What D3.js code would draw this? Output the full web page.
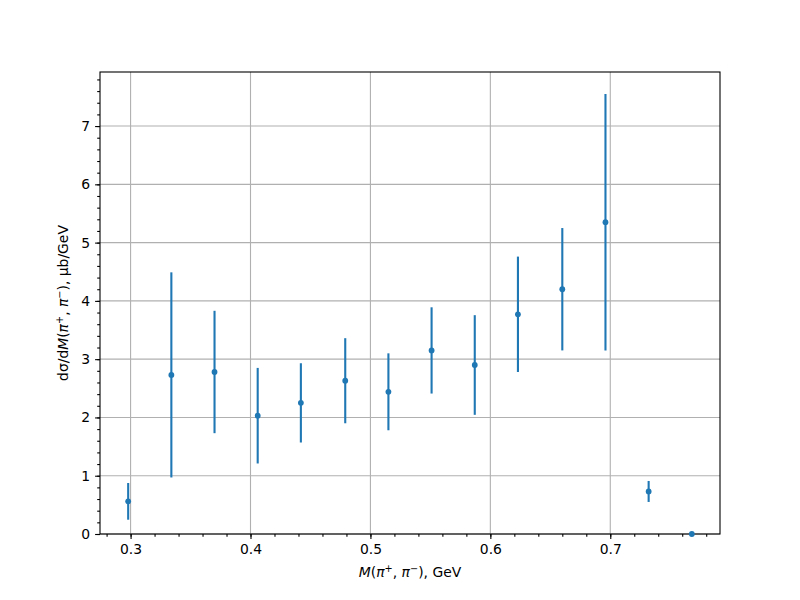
<!DOCTYPE html>
<html>
<head>
<meta charset="utf-8">
<script src="https://cdn.jsdelivr.net/npm/d3@7"></script>
<style>
  body { margin: 0; background: #fff; }
  svg { display: block; font-family: "DejaVu Sans", sans-serif; }
</style>
</head>
<body>
<svg id="chart" width="800" height="600"></svg>
<script>
// Data
const massGeV = [0.298, 0.334, 0.370, 0.406, 0.442, 0.479, 0.515, 0.551, 0.587, 0.623, 0.660, 0.696, 0.732, 0.768];
const dsigma  = [0.56, 2.73, 2.78, 2.03, 2.25, 2.63, 2.44, 3.15, 2.90, 3.77, 4.20, 5.35, 0.73, 0.0];
const dsigmaErr = [0.315, 1.76, 1.05, 0.82, 0.68, 0.73, 0.66, 0.74, 0.855, 0.99, 1.05, 2.20, 0.18, 0.0];
const xTicks = [0.3, 0.4, 0.5, 0.6, 0.7];
const yTicks = [0, 1, 2, 3, 4, 5, 6, 7];

const W = 800, H = 600;
const margin = {left: 100, right: 80, top: 72, bottom: 66};
const iw = W - margin.left - margin.right, ih = H - margin.top - margin.bottom;

const svg = d3.select("#chart");
const g = svg.append("g").attr("transform", `translate(${margin.left},${margin.top})`);

const xmin = d3.min(massGeV), xmax = d3.max(massGeV);
const xpad = (xmax - xmin) * 0.05;
const x = d3.scaleLinear().domain([xmin - xpad, xmax + xpad]).range([0, iw]);
const ytop = d3.max(dsigma.map((v, i) => v + dsigmaErr[i]));
const y = d3.scaleLinear().domain([0, ytop * 1.05]).range([ih, 0]);

const fs = 13.9;
const grid = "#b0b0b0";

// grid lines
g.append("g").selectAll("line").data(xTicks).join("line")
  .attr("x1", d => x(d)).attr("x2", d => x(d)).attr("y1", 0).attr("y2", ih)
  .attr("stroke", grid).attr("stroke-width", 1.1);
g.append("g").selectAll("line").data(yTicks).join("line")
  .attr("x1", 0).attr("x2", iw).attr("y1", d => y(d)).attr("y2", d => y(d))
  .attr("stroke", grid).attr("stroke-width", 1.1);

// axes
const xMinor = d3.range(0.28, 0.7901, 0.02).filter(v => v >= x.domain()[0] && v <= x.domain()[1]);
const yMinor = d3.range(0, 7.91, 0.2).filter(v => v <= y.domain()[1]);

const xAxisMinor = g.append("g").attr("transform", `translate(0,${ih})`)
  .call(d3.axisBottom(x).tickValues(xMinor).tickSize(2.8).tickFormat(""));
const xAxis = g.append("g").attr("transform", `translate(0,${ih})`)
  .call(d3.axisBottom(x).tickValues(xTicks).tickSize(4.9).tickPadding(4.9).tickFormat(d3.format(".1f")));
const yAxisMinor = g.append("g")
  .call(d3.axisLeft(y).tickValues(yMinor).tickSize(2.8).tickFormat(""));
const yAxis = g.append("g")
  .call(d3.axisLeft(y).tickValues(yTicks).tickSize(4.9).tickPadding(4.9).tickFormat(d3.format("d")));

[xAxisMinor, xAxis, yAxisMinor, yAxis].forEach(a => {
  a.select(".domain").remove();
  a.selectAll(".tick line").attr("stroke", "#000").attr("stroke-width", 1.1);
  a.selectAll("text").attr("font-size", fs).attr("fill", "#000").attr("font-family", "DejaVu Sans");
});

// frame
g.append("rect").attr("x", 0).attr("y", 0).attr("width", iw).attr("height", ih)
  .attr("fill", "none").attr("stroke", "#000").attr("stroke-width", 1.1);

// error bars & points
const color = "#1f77b4";
const pts = massGeV.map((m, i) => ({m, v: dsigma[i], e: dsigmaErr[i]}));
g.append("g").selectAll("line").data(pts).join("line")
  .attr("x1", d => x(d.m)).attr("x2", d => x(d.m))
  .attr("y1", d => y(d.v + d.e)).attr("y2", d => y(d.v - d.e))
  .attr("stroke", color).attr("stroke-width", 2.1);
g.append("g").selectAll("circle").data(pts).join("circle")
  .attr("cx", d => x(d.m)).attr("cy", d => y(d.v)).attr("r", 2.9)
  .attr("fill", color);

// x label
const xl = svg.append("text")
  .attr("x", margin.left + iw / 2).attr("y", 577)
  .attr("text-anchor", "middle").attr("font-size", fs).attr("fill", "#000");
function mathLabel(t, prefix, suffix) {
  if (prefix) prefix.forEach(p => t.append("tspan").attr("font-style", p.it ? "italic" : null).text(p.s));
  t.append("tspan").attr("font-style", "italic").text("M");
  t.append("tspan").text("(");
  t.append("tspan").attr("font-style", "italic").text("π");
  t.append("tspan").attr("font-size", fs * 0.7).attr("dy", -5).text("+");
  t.append("tspan").attr("dy", 5).text(", ");
  t.append("tspan").attr("font-style", "italic").text("π");
  t.append("tspan").attr("font-size", fs * 0.7).attr("dy", -5).text("−");
  t.append("tspan").attr("dy", 5).text(")");
  t.append("tspan").text(suffix);
}
mathLabel(xl, null, ", GeV");

// y label
const yl = svg.append("text")
  .attr("transform", `translate(68,${margin.top + ih / 2}) rotate(-90)`)
  .attr("text-anchor", "middle").attr("font-size", fs).attr("fill", "#000");
mathLabel(yl, [{s: "dσ/d"}], ", μb/GeV");
</script>
</body>
</html>
